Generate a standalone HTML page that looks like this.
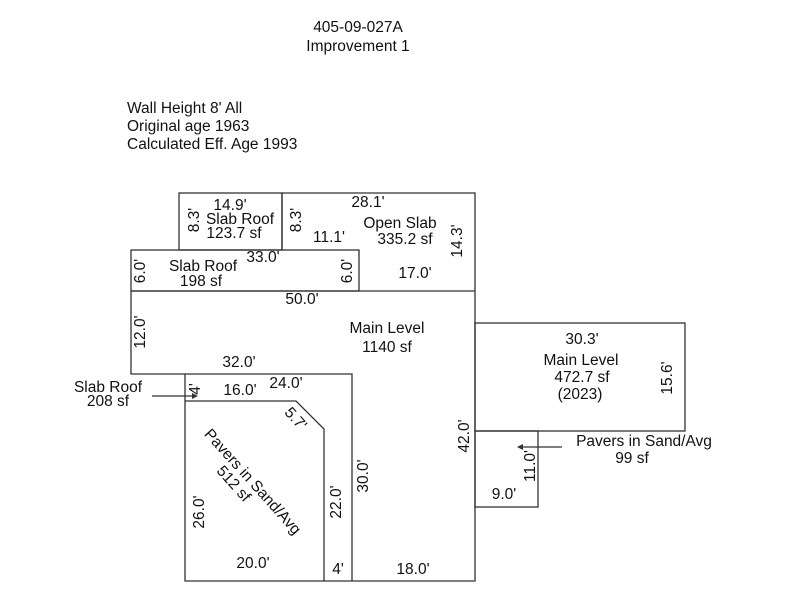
<!DOCTYPE html>
<html><head><style>
body{margin:0;background:#fff}
svg{display:block}
text{font-family:"Liberation Sans",sans-serif;font-size:15.5px;fill:#111}
</style></head><body>
<svg width="800" height="600" viewBox="0 0 800 600">
<g fill="none" stroke="#333" stroke-width="1.3">
<rect x="179" y="193" width="103" height="57"/>
<path d="M282 250V193H475V291"/>
<rect x="131" y="250" width="228" height="41"/>
<path d="M131 291H475V581H185V374H131Z"/>
<path d="M185 374H352V581"/>
<path d="M185 401H296L324 429V581"/>
<rect x="475" y="323" width="210" height="108"/>
<rect x="475" y="431" width="63" height="76"/>
<path d="M152 396H196"/>
<path d="M562 447H520"/>
</g>
<path d="M198 396l-6-3v6z" fill="#333"/>
<path d="M517 447l6-3v6z" fill="#333"/>
<g text-anchor="middle">
<text x="358" y="32">405-09-027A</text>
<text x="358" y="51">Improvement 1</text>
</g>
<text x="127" y="113">Wall Height 8' All</text>
<text x="127" y="131">Original age 1963</text>
<text x="127" y="149">Calculated Eff. Age 1993</text>
<g text-anchor="middle">
<text x="230" y="210">14.9'</text>
<text x="240" y="224">Slab Roof</text>
<text x="234" y="238">123.7 sf</text>
<text x="368" y="207">28.1'</text>
<text x="400" y="228">Open Slab</text>
<text x="405" y="244">335.2 sf</text>
<text x="329" y="242">11.1'</text>
<text x="415" y="278">17.0'</text>
<text x="263" y="262">33.0'</text>
<text x="203" y="271">Slab Roof</text>
<text x="201" y="286">198 sf</text>
<text x="302" y="304">50.0'</text>
<text x="387" y="333">Main Level</text>
<text x="387" y="352">1140 sf</text>
<text x="239" y="367">32.0'</text>
<text x="240" y="395">16.0'</text>
<text x="286" y="388">24.0'</text>
<text x="108" y="392">Slab Roof</text>
<text x="108" y="406">208 sf</text>
<text x="253" y="568">20.0'</text>
<text x="338" y="574">4'</text>
<text x="413" y="574">18.0'</text>
<text x="582" y="344">30.3'</text>
<text x="581" y="365">Main Level</text>
<text x="582" y="382">472.7 sf</text>
<text x="580" y="399">(2023)</text>
<text x="644" y="446">Pavers in Sand/Avg</text>
<text x="632" y="463">99 sf</text>
<text x="504" y="499">9.0'</text>
</g>
<g text-anchor="middle">
<text transform="translate(199,220) rotate(-90)">8.3'</text>
<text transform="translate(301,220) rotate(-90)">8.3'</text>
<text transform="translate(462,241) rotate(-90)">14.3'</text>
<text transform="translate(145,271) rotate(-90)">6.0'</text>
<text transform="translate(352,271) rotate(-90)">6.0'</text>
<text transform="translate(145,332) rotate(-90)">12.0'</text>
<text transform="translate(200,389) rotate(-90)">4'</text>
<text transform="translate(204,512) rotate(-90)">26.0'</text>
<text transform="translate(341,502) rotate(-90)">22.0'</text>
<text transform="translate(368,476) rotate(-90)">30.0'</text>
<text transform="translate(469,436) rotate(-90)">42.0'</text>
<text transform="translate(535,466) rotate(-90)">11.0'</text>
<text transform="translate(672,378) rotate(-90)">15.6'</text>
<text transform="translate(292,422) rotate(48)">5.7'</text>
<text transform="translate(249,485) rotate(48)">Pavers in Sand/Avg</text>
<text transform="translate(230,487) rotate(48)">512 sf</text>
</g>
</svg>
</body></html>
